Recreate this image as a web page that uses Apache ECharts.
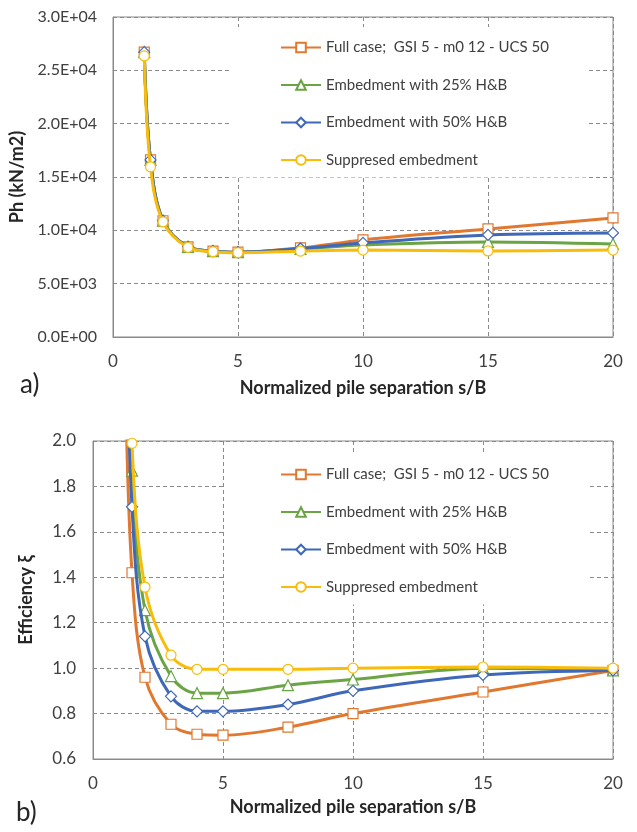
<!DOCTYPE html>
<html>
<head>
<meta charset="utf-8">
<script src="https://cdn.jsdelivr.net/npm/echarts@6/dist/echarts.min.js"></script>
<style>
  html, body { margin: 0; padding: 0; background: #fff; }
  #chart { width: 637px; height: 832px; }
</style>
</head>
<body>
<div id="chart"></div>
<script>
// Normalized pile separation s/B (shared by both panels)
const separation = [1.25, 1.5, 2, 3, 4, 5, 7.5, 10, 15, 20];

const seriesNames = [
  'Full case;  GSI 5 - m0 12 - UCS 50',
  'Embedment with 25% H&B',
  'Embedment with 50% H&B',
  'Suppresed embedment'
];

// Panel a) horizontal pressure Ph (kN/m2)
const phFull      = [26700, 16600, 10900, 8450, 8050, 7950, 8350, 9100, 10130, 11160];
const phEmbed25   = [26700, 16600, 10900, 8450, 8050, 7950, 8250, 8630, 8910, 8720];
const phEmbed50   = [26700, 16600, 10900, 8450, 8050, 7950, 8300, 8820, 9570, 9760];
const phSuppresed = [26350, 15950, 10800, 8400, 8000, 7900, 8050, 8150, 8070, 8150];

// Panel b) efficiency
const effFull      = [2.28, 1.42, 0.96, 0.753, 0.709, 0.705, 0.74, 0.80, 0.895, 0.99];
const effEmbed25   = [3.00, 1.87, 1.255, 0.965, 0.89, 0.89, 0.925, 0.95, 1.00, 0.99];
const effEmbed50   = [2.75, 1.71, 1.14, 0.876, 0.81, 0.81, 0.84, 0.90, 0.97, 0.99];
const effSuppresed = [3.29, 1.99, 1.357, 1.057, 0.995, 0.995, 0.995, 1.00, 1.005, 1.00];

const xTicks = { min: 0, max: 20, interval: 5 };
const phTicks = { min: 0, max: 30000, interval: 5000 };
const effTicks = { min: 0.6, max: 2.0, interval: 0.2 };

const colors = ['#E0782F', '#6AA444', '#3F68B8', '#F7BD0A'];
const symbols = ['rect', 'triangle', 'diamond', 'circle'];
const symbolSizes = [10, 11, 11, 10];

const FONT = 'Lato, "Open Sans", sans-serif';
const gridColor = '#8a8a8a';
const labelColor = '#404040';
const titleColor = '#262626';

function sci(v) {
  const [m, e] = Number(v).toExponential(1).split('e');
  const sign = e[0] === '-' ? '-' : '+';
  const digits = e.replace(/[+-]/, '').padStart(2, '0');
  return m + 'E' + sign + digits;
}

function zip(xs, ys) { return xs.map((x, i) => [x, ys[i]]); }

function makeSeries(values, idx, panel) {
  return {
    name: seriesNames[idx],
    type: 'line',
    xAxisIndex: panel,
    yAxisIndex: panel,
    data: zip(separation, values),
    smooth: 0.35,
    clip: true,
    color: colors[idx],
    symbol: symbols[idx],
    symbolSize: symbolSizes[idx],
    showAllSymbol: true,
    lineStyle: { color: colors[idx], width: 3 },
    itemStyle: { color: '#ffffff', borderColor: colors[idx], borderWidth: 1.2 },
    emphasis: { disabled: true },
    z: 2 + idx
  };
}

function xAxisFor(panel, nameGap) {
  return {
    gridIndex: panel,
    type: 'value',
    min: xTicks.min, max: xTicks.max, interval: xTicks.interval,
    name: 'Normalized pile separation s/B',
    nameLocation: 'middle',
    nameGap: nameGap,
    nameTextStyle: { fontFamily: FONT, fontWeight: 'bold', fontSize: 18, color: titleColor },
    axisLine: { show: true, lineStyle: { color: gridColor, width: 1 } },
    axisTick: { show: false },
    axisLabel: { fontFamily: FONT, fontSize: 17, color: labelColor, margin: 16 },
    splitLine: { show: true, lineStyle: { color: gridColor, type: [4, 3], width: 1 } }
  };
}

const legendCommon = {
  orient: 'vertical',
  data: seriesNames,
  itemWidth: 40,
  itemHeight: 12,
  itemGap: 22.5,
  backgroundColor: '#ffffff',
  textStyle: { fontFamily: FONT, fontSize: 15, color: labelColor },
  selectedMode: false
};

const option = {
  backgroundColor: '#ffffff',
  animation: false,
  grid: [
    { left: 113, top: 17, width: 500, height: 320, show: true, borderColor: gridColor, borderWidth: 1, backgroundColor: 'transparent' },
    { left: 93, top: 441, width: 520, height: 318, show: true, borderColor: gridColor, borderWidth: 1, backgroundColor: 'transparent' }
  ],
  xAxis: [xAxisFor(0, 42), xAxisFor(1, 39)],
  yAxis: [
    {
      gridIndex: 0,
      type: 'value',
      min: phTicks.min, max: phTicks.max, interval: phTicks.interval,
      name: 'Ph (kN/m2)',
      nameLocation: 'middle',
      nameGap: 78,
      nameTextStyle: { fontFamily: FONT, fontWeight: 'bold', fontSize: 18, color: titleColor },
      axisLine: { show: true, lineStyle: { color: gridColor, width: 1 } },
      axisTick: { show: false },
      axisLabel: { fontFamily: FONT, fontSize: 16, color: labelColor, margin: 16, formatter: sci },
      splitLine: { show: true, lineStyle: { color: gridColor, type: [4, 3], width: 1 } }
    },
    {
      gridIndex: 1,
      type: 'value',
      min: effTicks.min, max: effTicks.max, interval: effTicks.interval,
      name: 'Efficiency ξ',
      nameLocation: 'middle',
      nameGap: 58,
      nameTextStyle: { fontFamily: FONT, fontWeight: 'bold', fontSize: 18, color: titleColor },
      axisLine: { show: true, lineStyle: { color: gridColor, width: 1 } },
      axisTick: { show: false },
      axisLabel: { fontFamily: FONT, fontSize: 17, color: labelColor, margin: 17, formatter: v => Number(v).toFixed(1) },
      splitLine: { show: true, lineStyle: { color: gridColor, type: [4, 3], width: 1 } }
    }
  ],
  legend: [
    Object.assign({}, legendCommon, { left: 230, top: 27, padding: [13, 40, 10, 50] }),
    Object.assign({}, legendCommon, { left: 226, top: 452, padding: [15, 40, 10, 54] })
  ],
  graphic: [
    { type: 'text', left: 20, top: 372, style: { text: 'a)', fontFamily: FONT, fontSize: 26, fill: titleColor } },
    { type: 'text', left: 16, top: 800, style: { text: 'b)', fontFamily: FONT, fontSize: 26, fill: titleColor } }
  ],
  series: [
    makeSeries(phFull, 0, 0),
    makeSeries(phEmbed25, 1, 0),
    makeSeries(phEmbed50, 2, 0),
    makeSeries(phSuppresed, 3, 0),
    makeSeries(effFull, 0, 1),
    makeSeries(effEmbed25, 1, 1),
    makeSeries(effEmbed50, 2, 1),
    makeSeries(effSuppresed, 3, 1)
  ]
};

const chart = echarts.init(document.getElementById('chart'), null, { renderer: 'canvas' });
chart.setOption(option);
</script>
</body>
</html>
